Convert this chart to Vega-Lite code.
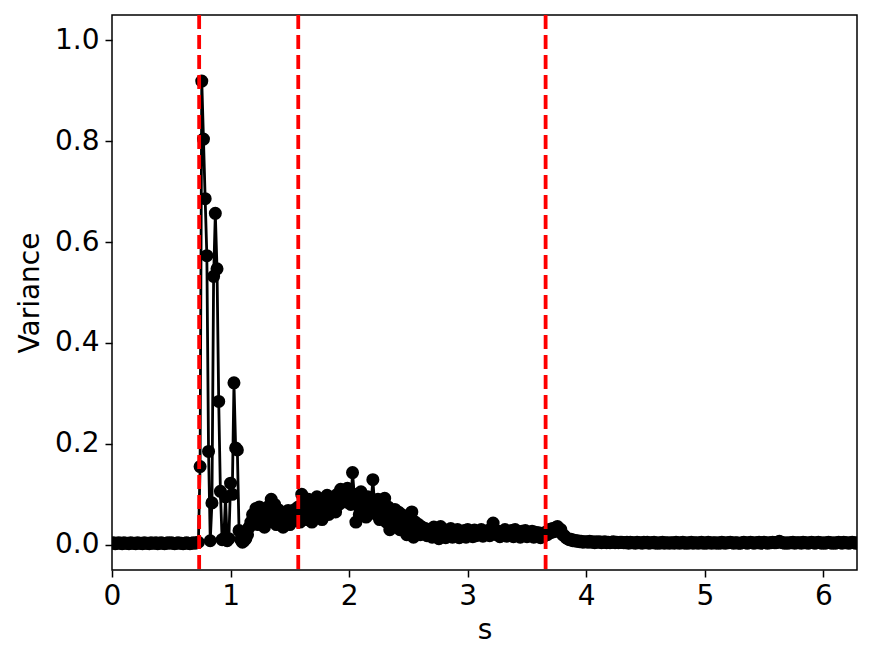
{
"$schema": "https://vega.github.io/schema/vega-lite/v6.json",
"width": 745, "height": 555,
"autosize": {"type": "none"},
"padding": {"left": 112, "top": 15, "right": 15, "bottom": 94},
"background": "white",
"config": {"view": {"stroke": "black", "strokeWidth": 1.5}, "font": "DejaVu Sans"},
"datasets": {
"d": [
{"s":0,"v":0.003},{"s":0.0143,"v":0.004},{"s":0.0286,"v":0.002},{"s":0.0429,"v":0.003},{"s":0.0571,"v":0.004},{"s":0.0714,"v":0.003},{"s":0.0857,"v":0.002},
{"s":0.1,"v":0.004},{"s":0.1143,"v":0.003},{"s":0.1286,"v":0.003},{"s":0.1429,"v":0.002},{"s":0.1571,"v":0.004},{"s":0.1714,"v":0.003},{"s":0.1857,"v":0.003},
{"s":0.2,"v":0.002},{"s":0.2143,"v":0.004},{"s":0.2286,"v":0.003},{"s":0.2429,"v":0.003},{"s":0.2571,"v":0.002},{"s":0.2714,"v":0.004},{"s":0.2857,"v":0.003},
{"s":0.3,"v":0.003},{"s":0.3143,"v":0.002},{"s":0.3286,"v":0.004},{"s":0.3429,"v":0.003},{"s":0.3571,"v":0.003},{"s":0.3714,"v":0.004},{"s":0.3857,"v":0.002},
{"s":0.4,"v":0.003},{"s":0.4143,"v":0.004},{"s":0.4286,"v":0.003},{"s":0.4429,"v":0.002},{"s":0.4571,"v":0.003},{"s":0.4714,"v":0.004},{"s":0.4857,"v":0.003},
{"s":0.5,"v":0.004},{"s":0.5143,"v":0.003},{"s":0.5286,"v":0.002},{"s":0.5429,"v":0.003},{"s":0.5571,"v":0.004},{"s":0.5714,"v":0.003},{"s":0.5857,"v":0.003},
{"s":0.6,"v":0.002},{"s":0.6143,"v":0.003},{"s":0.6286,"v":0.004},{"s":0.6429,"v":0.003},{"s":0.6571,"v":0.002},{"s":0.6714,"v":0.003},{"s":0.6857,"v":0.004},
{"s":0.7,"v":0.003},{"s":0.7143,"v":0.004},{"s":0.7286,"v":0.005},{"s":0.7429,"v":0.155},{"s":0.7571,"v":0.919},{"s":0.7714,"v":0.804},{"s":0.7857,"v":0.686},
{"s":0.8,"v":0.573},{"s":0.8143,"v":0.185},{"s":0.8286,"v":0.008},{"s":0.8429,"v":0.083},{"s":0.8571,"v":0.532},{"s":0.8714,"v":0.657},{"s":0.8857,"v":0.547},
{"s":0.9,"v":0.284},{"s":0.9143,"v":0.106},{"s":0.9286,"v":0.010},{"s":0.9429,"v":0.012},{"s":0.9571,"v":0.095},{"s":0.9714,"v":0.008},{"s":0.9857,"v":0.012},
{"s":1.0,"v":0.122},{"s":1.0143,"v":0.100},{"s":1.0286,"v":0.321},{"s":1.0429,"v":0.192},{"s":1.0571,"v":0.188},{"s":1.0714,"v":0.028},{"s":1.0857,"v":0.010},
{"s":1.1,"v":0.005},{"s":1.1143,"v":0.008},{"s":1.1286,"v":0.012},{"s":1.1429,"v":0.020},{"s":1.1571,"v":0.035},{"s":1.1714,"v":0.045},{"s":1.1857,"v":0.060},
{"s":1.2,"v":0.050},{"s":1.2143,"v":0.072},{"s":1.2286,"v":0.040},{"s":1.2429,"v":0.075},{"s":1.2571,"v":0.055},{"s":1.2714,"v":0.070},{"s":1.2857,"v":0.035},
{"s":1.3,"v":0.065},{"s":1.3143,"v":0.045},{"s":1.3286,"v":0.078},{"s":1.3429,"v":0.090},{"s":1.3571,"v":0.060},{"s":1.3714,"v":0.080},{"s":1.3857,"v":0.040},
{"s":1.4,"v":0.070},{"s":1.4143,"v":0.055},{"s":1.4286,"v":0.065},{"s":1.4429,"v":0.035},{"s":1.4571,"v":0.060},{"s":1.4714,"v":0.050},{"s":1.4857,"v":0.068},
{"s":1.5,"v":0.040},{"s":1.5143,"v":0.060},{"s":1.5286,"v":0.048},{"s":1.5429,"v":0.070},{"s":1.5571,"v":0.055},{"s":1.5714,"v":0.075},{"s":1.5857,"v":0.045},
{"s":1.6,"v":0.100},{"s":1.6143,"v":0.060},{"s":1.6286,"v":0.085},{"s":1.6429,"v":0.050},{"s":1.6571,"v":0.090},{"s":1.6714,"v":0.070},{"s":1.6857,"v":0.045},
{"s":1.7,"v":0.085},{"s":1.7143,"v":0.065},{"s":1.7286,"v":0.095},{"s":1.7429,"v":0.060},{"s":1.7571,"v":0.080},{"s":1.7714,"v":0.050},{"s":1.7857,"v":0.090},
{"s":1.8,"v":0.070},{"s":1.8143,"v":0.098},{"s":1.8286,"v":0.060},{"s":1.8429,"v":0.085},{"s":1.8571,"v":0.075},{"s":1.8714,"v":0.095},{"s":1.8857,"v":0.065},
{"s":1.9,"v":0.100},{"s":1.9143,"v":0.080},{"s":1.9286,"v":0.110},{"s":1.9429,"v":0.090},{"s":1.9571,"v":0.105},{"s":1.9714,"v":0.085},{"s":1.9857,"v":0.112},
{"s":2.0,"v":0.095},{"s":2.0143,"v":0.080},{"s":2.0286,"v":0.143},{"s":2.0429,"v":0.100},{"s":2.0571,"v":0.045},{"s":2.0714,"v":0.095},{"s":2.0857,"v":0.060},
{"s":2.1,"v":0.105},{"s":2.1143,"v":0.070},{"s":2.1286,"v":0.090},{"s":2.1429,"v":0.055},{"s":2.1571,"v":0.095},{"s":2.1714,"v":0.070},{"s":2.1857,"v":0.085},
{"s":2.2,"v":0.129},{"s":2.2143,"v":0.080},{"s":2.2286,"v":0.060},{"s":2.2429,"v":0.090},{"s":2.2571,"v":0.050},{"s":2.2714,"v":0.080},{"s":2.2857,"v":0.065},
{"s":2.3,"v":0.092},{"s":2.3143,"v":0.045},{"s":2.3286,"v":0.075},{"s":2.3429,"v":0.030},{"s":2.3571,"v":0.060},{"s":2.3714,"v":0.050},{"s":2.3857,"v":0.070},
{"s":2.4,"v":0.040},{"s":2.4143,"v":0.065},{"s":2.4286,"v":0.030},{"s":2.4429,"v":0.060},{"s":2.4571,"v":0.045},{"s":2.4714,"v":0.055},{"s":2.4857,"v":0.020},
{"s":2.5,"v":0.050},{"s":2.5143,"v":0.030},{"s":2.5286,"v":0.065},{"s":2.5429,"v":0.015},{"s":2.5571,"v":0.045},{"s":2.5714,"v":0.030},{"s":2.5857,"v":0.040},
{"s":2.6,"v":0.020},{"s":2.6143,"v":0.035},{"s":2.6286,"v":0.025},{"s":2.6429,"v":0.032},{"s":2.6571,"v":0.018},{"s":2.6714,"v":0.030},{"s":2.6857,"v":0.028},
{"s":2.7,"v":0.015},{"s":2.7143,"v":0.035},{"s":2.7286,"v":0.020},{"s":2.7429,"v":0.030},{"s":2.7571,"v":0.012},{"s":2.7714,"v":0.036},{"s":2.7857,"v":0.022},
{"s":2.8,"v":0.030},{"s":2.8143,"v":0.014},{"s":2.8286,"v":0.028},{"s":2.8429,"v":0.018},{"s":2.8571,"v":0.032},{"s":2.8714,"v":0.015},{"s":2.8857,"v":0.026},
{"s":2.9,"v":0.020},{"s":2.9143,"v":0.030},{"s":2.9286,"v":0.014},{"s":2.9429,"v":0.025},{"s":2.9571,"v":0.018},{"s":2.9714,"v":0.028},{"s":2.9857,"v":0.015},
{"s":3.0,"v":0.030},{"s":3.0143,"v":0.020},{"s":3.0286,"v":0.027},{"s":3.0429,"v":0.016},{"s":3.0571,"v":0.029},{"s":3.0714,"v":0.018},{"s":3.0857,"v":0.025},
{"s":3.1,"v":0.020},{"s":3.1143,"v":0.030},{"s":3.1286,"v":0.017},{"s":3.1429,"v":0.026},{"s":3.1571,"v":0.021},{"s":3.1714,"v":0.028},{"s":3.1857,"v":0.018},
{"s":3.2,"v":0.032},{"s":3.2143,"v":0.043},{"s":3.2286,"v":0.030},{"s":3.2429,"v":0.020},{"s":3.2571,"v":0.027},{"s":3.2714,"v":0.016},{"s":3.2857,"v":0.025},
{"s":3.3,"v":0.020},{"s":3.3143,"v":0.030},{"s":3.3286,"v":0.017},{"s":3.3429,"v":0.026},{"s":3.3571,"v":0.020},{"s":3.3714,"v":0.028},{"s":3.3857,"v":0.016},
{"s":3.4,"v":0.030},{"s":3.4143,"v":0.019},{"s":3.4286,"v":0.025},{"s":3.4429,"v":0.015},{"s":3.4571,"v":0.027},{"s":3.4714,"v":0.020},{"s":3.4857,"v":0.028},
{"s":3.5,"v":0.016},{"s":3.5143,"v":0.024},{"s":3.5286,"v":0.018},{"s":3.5429,"v":0.027},{"s":3.5571,"v":0.015},{"s":3.5714,"v":0.025},{"s":3.5857,"v":0.018},
{"s":3.6,"v":0.024},{"s":3.6143,"v":0.014},{"s":3.6286,"v":0.022},{"s":3.6429,"v":0.017},{"s":3.6571,"v":0.025},{"s":3.6714,"v":0.020},{"s":3.6857,"v":0.030},
{"s":3.7,"v":0.024},{"s":3.7143,"v":0.032},{"s":3.7286,"v":0.026},{"s":3.7429,"v":0.034},{"s":3.7571,"v":0.036},{"s":3.7714,"v":0.028},{"s":3.7857,"v":0.030},
{"s":3.8,"v":0.020},{"s":3.8143,"v":0.018},{"s":3.8286,"v":0.014},{"s":3.8429,"v":0.012},{"s":3.8571,"v":0.010},{"s":3.8714,"v":0.011},{"s":3.8857,"v":0.008},
{"s":3.9,"v":0.009},{"s":3.9143,"v":0.007},{"s":3.9286,"v":0.008},{"s":3.9429,"v":0.006},{"s":3.9571,"v":0.007},{"s":3.9714,"v":0.005},{"s":3.9857,"v":0.006},
{"s":4.0,"v":0.006},{"s":4.0143,"v":0.005},{"s":4.0286,"v":0.007},{"s":4.0429,"v":0.005},{"s":4.0571,"v":0.006},{"s":4.0714,"v":0.004},{"s":4.0857,"v":0.006},
{"s":4.1,"v":0.005},{"s":4.1143,"v":0.006},{"s":4.1286,"v":0.004},{"s":4.1429,"v":0.005},{"s":4.1571,"v":0.006},{"s":4.1714,"v":0.004},{"s":4.1857,"v":0.005},
{"s":4.2,"v":0.004},{"s":4.2143,"v":0.005},{"s":4.2286,"v":0.006},{"s":4.2429,"v":0.004},{"s":4.2571,"v":0.005},{"s":4.2714,"v":0.004},{"s":4.2857,"v":0.005},
{"s":4.3,"v":0.005},{"s":4.3143,"v":0.004},{"s":4.3286,"v":0.004},{"s":4.3429,"v":0.005},{"s":4.3571,"v":0.003},{"s":4.3714,"v":0.005},{"s":4.3857,"v":0.004},
{"s":4.4,"v":0.004},{"s":4.4143,"v":0.003},{"s":4.4286,"v":0.005},{"s":4.4429,"v":0.004},{"s":4.4571,"v":0.004},{"s":4.4714,"v":0.003},{"s":4.4857,"v":0.005},
{"s":4.5,"v":0.004},{"s":4.5143,"v":0.005},{"s":4.5286,"v":0.003},{"s":4.5429,"v":0.004},{"s":4.5571,"v":0.004},{"s":4.5714,"v":0.005},{"s":4.5857,"v":0.003},
{"s":4.6,"v":0.004},{"s":4.6143,"v":0.003},{"s":4.6286,"v":0.004},{"s":4.6429,"v":0.005},{"s":4.6571,"v":0.003},{"s":4.6714,"v":0.004},{"s":4.6857,"v":0.004},
{"s":4.7,"v":0.003},{"s":4.7143,"v":0.004},{"s":4.7286,"v":0.004},{"s":4.7429,"v":0.003},{"s":4.7571,"v":0.005},{"s":4.7714,"v":0.004},{"s":4.7857,"v":0.003},
{"s":4.8,"v":0.004},{"s":4.8143,"v":0.005},{"s":4.8286,"v":0.003},{"s":4.8429,"v":0.004},{"s":4.8571,"v":0.003},{"s":4.8714,"v":0.004},{"s":4.8857,"v":0.005},
{"s":4.9,"v":0.003},{"s":4.9143,"v":0.004},{"s":4.9286,"v":0.004},{"s":4.9429,"v":0.003},{"s":4.9571,"v":0.004},{"s":4.9714,"v":0.005},{"s":4.9857,"v":0.003},
{"s":5.0,"v":0.004},{"s":5.0143,"v":0.003},{"s":5.0286,"v":0.005},{"s":5.0429,"v":0.004},{"s":5.0571,"v":0.003},{"s":5.0714,"v":0.004},{"s":5.0857,"v":0.004},
{"s":5.1,"v":0.003},{"s":5.1143,"v":0.004},{"s":5.1286,"v":0.003},{"s":5.1429,"v":0.005},{"s":5.1571,"v":0.004},{"s":5.1714,"v":0.003},{"s":5.1857,"v":0.004},
{"s":5.2,"v":0.004},{"s":5.2143,"v":0.005},{"s":5.2286,"v":0.004},{"s":5.2429,"v":0.003},{"s":5.2571,"v":0.004},{"s":5.2714,"v":0.004},{"s":5.2857,"v":0.003},
{"s":5.3,"v":0.003},{"s":5.3143,"v":0.004},{"s":5.3286,"v":0.005},{"s":5.3429,"v":0.004},{"s":5.3571,"v":0.003},{"s":5.3714,"v":0.004},{"s":5.3857,"v":0.005},
{"s":5.4,"v":0.004},{"s":5.4143,"v":0.003},{"s":5.4286,"v":0.004},{"s":5.4429,"v":0.004},{"s":5.4571,"v":0.005},{"s":5.4714,"v":0.003},{"s":5.4857,"v":0.004},
{"s":5.5,"v":0.005},{"s":5.5143,"v":0.004},{"s":5.5286,"v":0.003},{"s":5.5429,"v":0.004},{"s":5.5571,"v":0.004},{"s":5.5714,"v":0.005},{"s":5.5857,"v":0.004},
{"s":5.6,"v":0.004},{"s":5.6143,"v":0.005},{"s":5.6286,"v":0.007},{"s":5.6429,"v":0.005},{"s":5.6571,"v":0.004},{"s":5.6714,"v":0.003},{"s":5.6857,"v":0.004},
{"s":5.7,"v":0.003},{"s":5.7143,"v":0.004},{"s":5.7286,"v":0.004},{"s":5.7429,"v":0.005},{"s":5.7571,"v":0.003},{"s":5.7714,"v":0.004},{"s":5.7857,"v":0.004},
{"s":5.8,"v":0.004},{"s":5.8143,"v":0.003},{"s":5.8286,"v":0.005},{"s":5.8429,"v":0.004},{"s":5.8571,"v":0.004},{"s":5.8714,"v":0.003},{"s":5.8857,"v":0.004},
{"s":5.9,"v":0.005},{"s":5.9143,"v":0.004},{"s":5.9286,"v":0.003},{"s":5.9429,"v":0.004},{"s":5.9571,"v":0.005},{"s":5.9714,"v":0.004},{"s":5.9857,"v":0.003},
{"s":6.0,"v":0.004},{"s":6.0143,"v":0.003},{"s":6.0286,"v":0.004},{"s":6.0429,"v":0.005},{"s":6.0571,"v":0.004},{"s":6.0714,"v":0.003},{"s":6.0857,"v":0.004},
{"s":6.1,"v":0.003},{"s":6.1143,"v":0.004},{"s":6.1286,"v":0.005},{"s":6.1429,"v":0.004},{"s":6.1571,"v":0.003},{"s":6.1714,"v":0.005},{"s":6.1857,"v":0.004},
{"s":6.2,"v":0.004},{"s":6.2143,"v":0.003},{"s":6.2286,"v":0.004},{"s":6.2429,"v":0.005},{"s":6.2571,"v":0.004},{"s":6.2714,"v":0.003},{"s":6.2832,"v":0.004}
],
"lines": [{"s": 0.735}, {"s": 1.5708}, {"s": 3.657}]
},
"layer": [
{
"data": {"name": "d"},
"mark": {"type": "line", "color": "black", "strokeWidth": 2.8, "clip": true},
"encoding": {
"x": {"field": "s", "type": "quantitative",
"scale": {"domain": [0, 6.2832], "nice": false, "zero": false},
"axis": {"title": "s", "values": [0, 1, 2, 3, 4, 5, 6], "format": "d", "grid": false, "domain": false, "labelFlush": false,
"labelFontSize": 28, "titleFontSize": 28, "titleFontWeight": "normal", "labelColor": "black", "titleColor": "black",
"tickColor": "black", "tickWidth": 1.5, "tickSize": 7, "labelPadding": 5, "titlePadding": 6, "labelFont": "DejaVu Sans", "titleFont": "DejaVu Sans"}},
"y": {"field": "v", "type": "quantitative",
"scale": {"domain": [-0.05, 1.05], "nice": false, "zero": false},
"axis": {"title": "Variance", "values": [0, 0.2, 0.4, 0.6, 0.8, 1.0], "format": ".1f", "grid": false, "domain": false, "labelFlush": false,
"labelFontSize": 28, "titleFontSize": 28, "titleFontWeight": "normal", "labelColor": "black", "titleColor": "black",
"tickColor": "black", "tickWidth": 1.5, "tickSize": 7, "labelPadding": 6, "titlePadding": 10, "labelFont": "DejaVu Sans", "titleFont": "DejaVu Sans"}}
}
},
{
"data": {"name": "d"},
"mark": {"type": "point", "filled": true, "color": "black", "opacity": 1, "size": 170, "clip": true},
"encoding": {
"x": {"field": "s", "type": "quantitative"},
"y": {"field": "v", "type": "quantitative"}
}
},
{
"data": {"name": "lines"},
"mark": {"type": "rule", "color": "red", "strokeWidth": 3.8, "strokeDash": [14, 6]},
"encoding": {"x": {"field": "s", "type": "quantitative"}}
}
]
}
